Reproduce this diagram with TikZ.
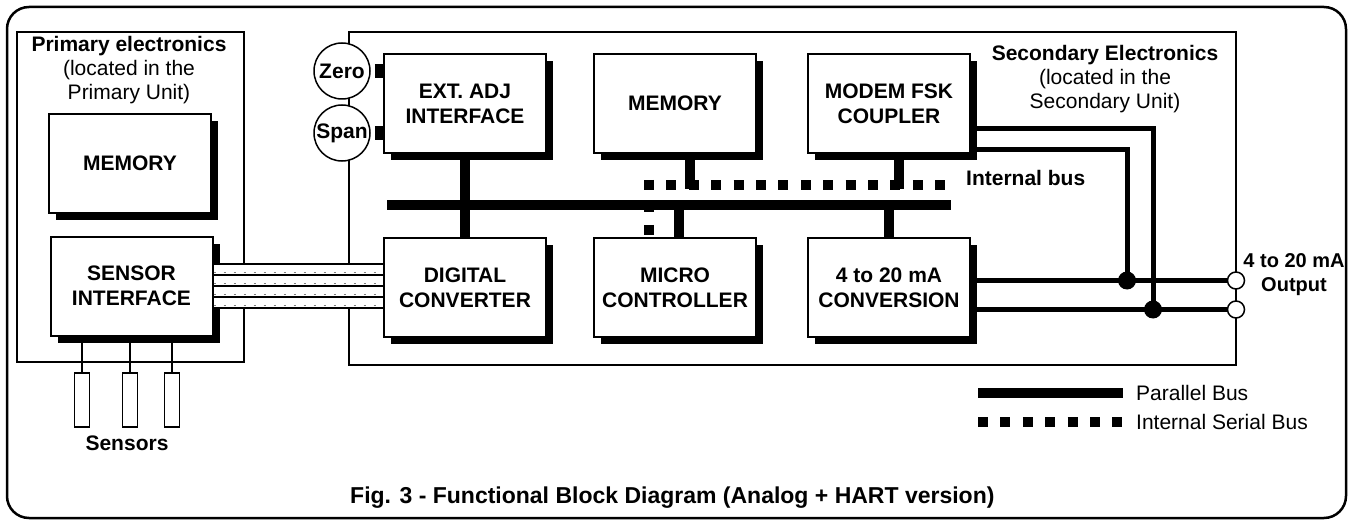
\documentclass[tikz,border=0pt]{standalone}
\usepackage{fontspec}
\setmainfont{Liberation Sans}
\usetikzlibrary{shadows}
\newcommand\bigfont{\fontsize{21}{25}\selectfont}
\tikzset{
  blk/.style={draw, line width=2pt, fill=white, minimum width=162pt, minimum height=99pt, inner sep=0pt, align=center, font=\bigfont\bfseries, drop shadow={shadow xshift=7pt, shadow yshift=-7pt, fill=black, opacity=1}},
  knob/.style={draw, circle, line width=1.5pt, fill=white, minimum size=56pt, inner sep=0pt, font=\bigfont\bfseries},
  term/.style={draw, circle, line width=1.5pt, fill=white, minimum size=17pt, inner sep=0pt},
  sensor/.style={draw, line width=1.5pt, minimum width=15pt, minimum height=54pt, inner sep=0pt},
  lbl/.style={font=\bigfont, align=center, inner sep=0pt},
  pbus/.style={line width=10pt},
  sbus/.style={line width=10pt, dash pattern=on 10pt off 12.4pt},
  sig/.style={line width=5pt},
  tab/.style={line width=14pt},
}

\begin{document}
\begin{tikzpicture}[x=1pt,y=-1pt]
    \useasboundingbox (0,0) rectangle (1353,524);
    % frame and the two units
    \draw[line width=2.5pt, rounded corners=22pt] (7,7) rectangle (1346,518);
    \draw[line width=1.5pt] (17,32) rectangle (244,362);
    \draw[line width=1.5pt] (349,32) rectangle (1236,365);
    \node[lbl, font=\fontsize{21}{24}\selectfont] (ptitle) at (129,70) {\textbf{Primary electronics}\\(located in the\\Primary Unit)};
    \node[lbl, font=\fontsize{21}{24}\selectfont] (stitle) at (1105,79) {\textbf{Secondary Electronics}\\(located in the\\Secondary Unit)};

    % blocks
    \node[blk] (pmem) at (130,163.5) {MEMORY};
    \node[blk] (sensif) at (131.5,286) {SENSOR\\INTERFACE};
    \node[blk] (extadj) at (465,103.5) {EXT. ADJ\\INTERFACE};
    \node[blk] (smem) at (675,103.5) {MEMORY};
    \node[blk] (modem) at (889,103.5) {MODEM FSK\\COUPLER};
    \node[blk] (digconv) at (465,287.5) {DIGITAL\\CONVERTER};
    \node[blk] (micro) at (675,287.5) {MICRO\\CONTROLLER};
    \node[blk] (conv) at (889,287.5) {4 to 20 mA\\CONVERSION};

    % sensors
    \node[sensor] (s1) at (82,400) {};
    \node[sensor] (s2) at (130,400) {};
    \node[sensor] (s3) at (172,400) {};
    \foreach \s in {s1,s2,s3}
        \draw[line width=1.5pt] (\s.north) -- (\s.north |- sensif.south);
    \node[lbl, font=\bigfont\bfseries] (senslbl) at (127,443) {Sensors};

    % ribbon cable
    \fill[white] (sensif.east |- 0,264) rectangle (digconv.west |- 0,308);
    \foreach \yy in {264,275,286,297,308}
        \draw[line width=1.5pt] (sensif.east |- 0,\yy) -- (digconv.west |- 0,\yy);
    \foreach \yy in {272.5,283.5,294.5,305.5}
        \draw[gray, line width=0.8pt, dash pattern=on 2pt off 8pt] (sensif.east |- 0,\yy) -- (digconv.west |- 0,\yy);

    % zero / span
    \node[knob] (zero) at (342,71) {Zero};
    \node[knob] (span) at (342,133) {Span};
    \draw[tab] ([xshift=4pt]zero.east) -- (zero.east -| extadj.west);
    \draw[tab] ([xshift=4pt]span.east) -- (span.east -| extadj.west);

    % parallel bus
    \coordinate (pbl) at (387,205);
    \coordinate (pbr) at (951,205);
    \draw[pbus] (pbl) -- (pbr);
    \draw[pbus] (extadj.south) -- (digconv.north);
    \draw[pbus] ([xshift=4pt]micro.north) -- ([xshift=4pt]micro.north |- pbl);
    \draw[pbus] (conv.north) -- (conv.north |- pbl);

    % internal serial bus
    \coordinate (sbl) at (644,185);
    \coordinate (sbr) at (947,185);
    \coordinate (sdrop) at (649,180);
    \draw[sbus] (sbl) -- (sbr);
    \draw[pbus] ([xshift=15pt]smem.south) -- ([xshift=15pt,yshift=-4pt]smem.south |- sbl);
    \draw[pbus] ([xshift=10pt]modem.south) -- ([xshift=10pt,yshift=-4pt]modem.south |- sbl);
    \draw[sbus] (sdrop) -- (sdrop |- micro.north);
    \node[lbl, font=\bigfont\bfseries, anchor=west] (buslbl) at (966,178) {Internal bus};

    % 4-20 mA output
    \node[term] (outA) at (1236,280.5) {};
    \node[term] (outB) at (1236,309.5) {};
    \coordinate (jA) at (1127,280.5);
    \coordinate (jB) at (1153,309.5);
    \draw[sig] (conv.east |- outA) -- (outA.west);
    \draw[sig] (conv.east |- outB) -- (outB.west);
    \draw[sig] ([yshift=-25.5pt]modem.east) -| (jB);
    \draw[sig] ([yshift=-46.5pt]modem.east) -| (jA);
    \fill (jA) circle (9pt);
    \fill (jB) circle (9pt);
    \node[lbl, font=\fontsize{20}{24}\selectfont\bfseries] (outlbl) at (1294,275) {4 to 20 mA\\Output};

    % legend
    \coordinate (lg1a) at (978,393);
    \coordinate (lg1b) at (1123,393);
    \coordinate (lg2a) at (978,422);
    \coordinate (lg2b) at (1123,422);
    \draw[pbus] (lg1a) -- (lg1b);
    \draw[sbus] (lg2a) -- (lg2b);
    \node[lbl, anchor=west] (lg1) at (1136,393) {Parallel Bus};
    \node[lbl, anchor=west] (lg2) at (1136,422) {Internal Serial Bus};

    \node[lbl, font=\fontsize{23}{27}\selectfont\bfseries, anchor=west] (caption) at (350,498) {Fig. 3 - Functional Block Diagram (Analog + HART version)};
\end{tikzpicture}
\end{document}
